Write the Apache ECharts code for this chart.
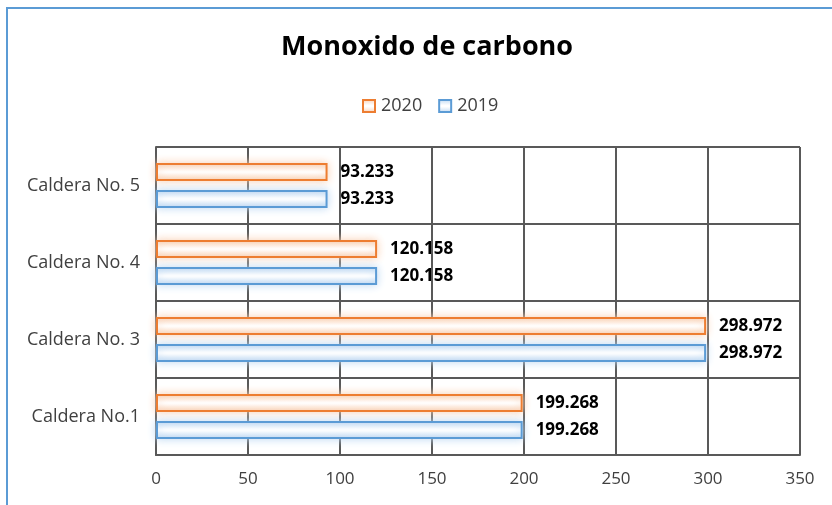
<!DOCTYPE html>
<html>
<head>
<meta charset="utf-8">
<script src="https://cdn.jsdelivr.net/npm/echarts@6/dist/echarts.min.js"></script>
<style>
  html, body { margin: 0; padding: 0; background: #fff; }
  #frame {
    position: absolute; left: 6px; top: 7px; width: 830px; height: 500px;
    border-top: 2px solid #5b9bd5; border-left: 2px solid #5b9bd5;
  }
  #myChart { position: absolute; left: 0; top: 0; width: 832px; height: 505px; }
</style>
</head>
<body>
<div id="frame"></div>
<div id="myChart"></div>
<script>
// datos de la grafica
const calderas = ["Caldera No.1", "Caldera No. 3", "Caldera No. 4", "Caldera No. 5"];
const valores2020 = [199.268, 298.972, 120.158, 93.233];
const valores2019 = [199.268, 298.972, 120.158, 93.233];
const ticksX = [0, 50, 100, 150, 200, 250, 300, 350];

const fuente = "'Open Sans', 'Noto Sans', sans-serif";

// relleno con brillo en los bordes
function relleno(borde) {
  return new echarts.graphic.LinearGradient(0, 0, 0, 1, [
    { offset: 0, color: borde },
    { offset: 0.45, color: '#ffffff' },
    { offset: 0.55, color: '#ffffff' },
    { offset: 1, color: borde }
  ]);
}

function serie(nombre, datos, linea, claro) {
  return {
    name: nombre,
    type: 'bar',
    data: datos,
    barWidth: 18,
    barGap: '50%',
    itemStyle: {
      color: relleno(claro),
      borderColor: linea,
      borderWidth: 2,
      shadowBlur: 9,
      shadowColor: claro
    },
    label: {
      show: true,
      position: 'right',
      distance: 13,
      color: '#000',
      fontWeight: 'bold',
      fontSize: 17,
      fontFamily: fuente,
      formatter: p => p.value.toFixed(3)
    }
  };
}

let myChart = echarts.init(document.getElementById('myChart'));
myChart.setOption({
  animation: false,
  title: {
    text: 'Monoxido de carbono',
    left: 276,
    top: 29,
    textStyle: { fontSize: 27, fontWeight: 'bold', color: '#000', fontFamily: fuente }
  },
  legend: {
    data: ['2020', '2019'],
    top: 92,
    left: 357,
    itemWidth: 12,
    itemHeight: 12,
    itemGap: 16,
    icon: 'rect',
    textStyle: { fontSize: 18, color: '#404040', fontFamily: fuente, padding: [0, 0, 0, 1] }
  },
  grid: { left: 156, right: 32, top: 147, bottom: 50 },
  xAxis: {
    type: 'value',
    min: ticksX[0],
    max: ticksX[ticksX.length - 1],
    interval: 50,
    axisLine: { show: true, lineStyle: { color: '#595959', width: 2 } },
    axisTick: { show: false },
    splitLine: { show: true, lineStyle: { color: '#595959', width: 2 } },
    axisLabel: { fontSize: 17, color: '#404040', fontFamily: fuente, margin: 16 }
  },
  yAxis: {
    type: 'category',
    data: calderas,
    axisLine: { show: true, lineStyle: { color: '#595959', width: 2 } },
    axisTick: { show: false },
    splitLine: { show: true, lineStyle: { color: '#595959', width: 2 } },
    axisLabel: { fontSize: 18, color: '#404040', fontFamily: fuente, margin: 16 }
  },
  series: [
    serie('2020', valores2020, '#ed7d31', '#f9cfb2'),
    serie('2019', valores2019, '#5b9bd5', '#bcd7f2')
  ]
});
</script>
</body>
</html>
